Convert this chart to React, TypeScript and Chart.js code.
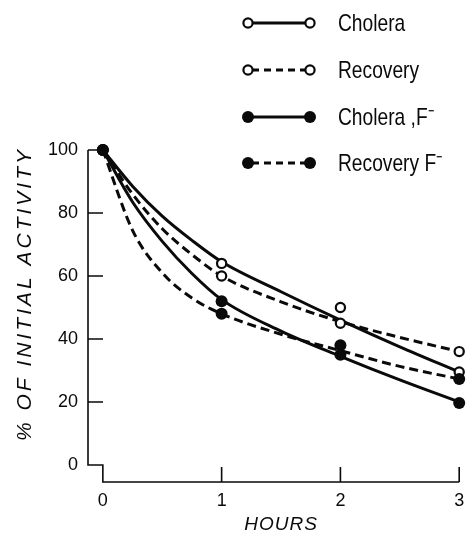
import React, { useEffect, useRef } from "react";
import { Chart, registerables } from "chart.js";

Chart.register(...registerables);

// measured data points (hours 0..3)
const hours = [0, 1, 2, 3];
const choleraPts = [100, 64, 45, 29.5];
const recoveryPts = [100, 60, 50, 36];
const choleraFPts = [100, 52, 38, 19.7];
const recoveryFPts = [100, 48, 35, 27.3];

// fitted curves
const curveHours = [0, 0.25, 0.5, 0.75, 1, 1.5, 2, 2.5, 3];
const choleraCurve = [100, 88.5, 79, 71.3, 64.5, 55, 46, 37.5, 29.5];
const recoveryCurve = [100, 86, 75, 66.8, 60, 51.8, 45.5, 40.5, 36];
const choleraFCurve = [100, 83.5, 71, 60.8, 52.5, 42.5, 34.5, 27, 20];
const recoveryFCurve = [100, 74.5, 61, 53, 48, 41.5, 36.3, 31.3, 27.3];

const xTicks = [0, 1, 2, 3];
const yTicks = [0, 20, 40, 60, 80, 100];
const legendLabels = ["Cholera", "Recovery", "Cholera ,F\u207B", "Recovery F\u207B"];
const xTitle = "HOURS";
const yTitle = "% OF INITIAL ACTIVITY";

const INK = "#0a0a0a";

const toXY = (xs: number[], ys: number[]) => xs.map((x, i) => ({ x, y: ys[i] }));

function drawMarker(ctx: CanvasRenderingContext2D, x: number, y: number, filled: boolean) {
  ctx.beginPath();
  if (filled) {
    ctx.arc(x, y, 6, 0, Math.PI * 2);
    ctx.fillStyle = INK;
    ctx.fill();
  } else {
    ctx.arc(x, y, 4.6, 0, Math.PI * 2);
    ctx.fillStyle = "#fff";
    ctx.fill();
    ctx.lineWidth = 2.2;
    ctx.strokeStyle = INK;
    ctx.stroke();
  }
}

const axesPlugin = {
  id: "brokenAxes",
  beforeDatasetsDraw(chart: any) {
    const ctx: CanvasRenderingContext2D = chart.ctx;
    const xs = chart.scales.x;
    const ys = chart.scales.y;
    const left = chart.chartArea.left;
    const bottom = chart.chartArea.bottom;
    const x0 = xs.getPixelForValue(xTicks[0]);
    const xEnd = xs.getPixelForValue(xTicks[xTicks.length - 1]);
    const y0 = ys.getPixelForValue(yTicks[0]);
    const yTop = ys.getPixelForValue(yTicks[yTicks.length - 1]);
    ctx.save();
    ctx.strokeStyle = INK;
    ctx.lineWidth = 1.6;
    ctx.beginPath();
    ctx.moveTo(left, yTop);
    ctx.lineTo(left, y0);
    ctx.lineTo(x0, y0);
    ctx.lineTo(x0, bottom);
    ctx.lineTo(xEnd, bottom);
    yTicks.slice(1).forEach((v) => {
      const p = ys.getPixelForValue(v);
      ctx.moveTo(left, p);
      ctx.lineTo(left + 15, p);
    });
    xTicks.slice(1).forEach((v) => {
      const p = xs.getPixelForValue(v);
      ctx.moveTo(p, bottom);
      ctx.lineTo(p, bottom - 15);
    });
    ctx.stroke();
    ctx.restore();
  },
  afterDraw(chart: any) {
    const ctx: CanvasRenderingContext2D = chart.ctx;
    const xs = chart.scales.x;
    ctx.save();
    ctx.fillStyle = INK;
    // x title
    ctx.font = "italic 19px 'Liberation Sans', Arial, sans-serif";
    (ctx as any).letterSpacing = "1px";
    ctx.textAlign = "center";
    ctx.textBaseline = "middle";
    ctx.fillText(xTitle, (xs.getPixelForValue(0) + xs.getPixelForValue(3)) / 2, 525);
    // y title
    ctx.save();
    ctx.translate(25, 294);
    ctx.rotate(-Math.PI / 2);
    ctx.font = "italic 21px 'Liberation Sans', Arial, sans-serif";
    (ctx as any).letterSpacing = "3px";
    ctx.fillText(yTitle, 0, 0);
    ctx.restore();
    (ctx as any).letterSpacing = "0px";

    // legend
    const rows = [23, 70, 117, 163];
    const styles = [
      { filled: false, dash: [] as number[] },
      { filled: false, dash: [7, 5] },
      { filled: true, dash: [] as number[] },
      { filled: true, dash: [7, 5] },
    ];
    rows.forEach((ry, i) => {
      const st = styles[i];
      ctx.save();
      ctx.strokeStyle = INK;
      ctx.lineWidth = 3;
      ctx.setLineDash(st.dash);
      ctx.beginPath();
      ctx.moveTo(252, ry);
      ctx.lineTo(306, ry);
      ctx.stroke();
      ctx.setLineDash([]);
      drawMarker(ctx, 248, ry, st.filled);
      drawMarker(ctx, 310, ry, st.filled);
      ctx.restore();
      ctx.save();
      ctx.fillStyle = INK;
      ctx.translate(338, ry + 1);
      ctx.scale(0.8, 1);
      ctx.font = "24px 'Liberation Sans', Arial, sans-serif";
      ctx.textAlign = "left";
      ctx.textBaseline = "middle";
      ctx.fillText(legendLabels[i], 0, 0);
      ctx.restore();
    });
    ctx.restore();
  },
};

export default function App() {
  const ref = useRef<HTMLCanvasElement | null>(null);
  useEffect(() => {
    if (!ref.current) return;
    const open = { pointBackgroundColor: "#fff", pointBorderColor: INK, pointBorderWidth: 2.2, pointRadius: 4.6 };
    const filled = { pointBackgroundColor: INK, pointBorderColor: INK, pointBorderWidth: 0, pointRadius: 6 };
    const curve = (data: number[], dash: number[]) => ({
      data: toXY(curveHours, data),
      borderColor: INK,
      borderWidth: 3,
      borderDash: dash,
      pointRadius: 0,
      cubicInterpolationMode: "monotone" as const,
      fill: false,
      clip: false as any,
    });
    const pts = (data: number[], style: any) => ({
      data: toXY(hours, data),
      showLine: false,
      clip: false as any,
      ...style,
    });
    const chart = new Chart(ref.current, {
      type: "line",
      data: {
        datasets: [
          pts(choleraFPts, filled),
          pts(recoveryFPts, filled),
          pts(choleraPts, open),
          pts(recoveryPts, open),
          curve(choleraCurve, []),
          curve(recoveryCurve, [9, 5]),
          curve(choleraFCurve, []),
          curve(recoveryFCurve, [9, 5]),
        ] as any,
      },
      options: {
        animation: false,
        responsive: false,
        layout: { padding: { left: 0, right: 3, top: 150, bottom: 0 } },
        plugins: { legend: { display: false }, tooltip: { enabled: false } },
        scales: {
          x: {
            type: "linear",
            min: -0.125,
            max: 3,
            grid: { display: false, drawTicks: false },
            border: { display: false },
            afterBuildTicks: (s: any) => {
              s.ticks = xTicks.map((v) => ({ value: v }));
            },
            afterFit: (s: any) => {
              s.height = 51;
              s.paddingLeft = 0;
              s.paddingRight = 0;
            },
            ticks: {
              padding: 8,
              color: INK,
              font: { family: "'Liberation Sans', Arial, sans-serif", size: 18 },
              maxRotation: 0,
              autoSkip: false,
              callback: (v: any) => String(v),
            },
          },
          y: {
            type: "linear",
            min: -5.4,
            max: 100,
            grid: { display: false, drawTicks: false },
            border: { display: false },
            afterBuildTicks: (s: any) => {
              s.ticks = yTicks.map((v) => ({ value: v }));
            },
            afterFit: (s: any) => {
              s.width = 88;
              s.paddingTop = 0;
              s.paddingBottom = 0;
            },
            ticks: {
              padding: 10,
              color: INK,
              font: { family: "'Liberation Sans', Arial, sans-serif", size: 18 },
              autoSkip: false,
              callback: (v: any) => String(v),
            },
          },
        },
      },
      plugins: [axesPlugin],
    });
    return () => chart.destroy();
  }, []);
  return (
    <div style={{ position: "absolute", left: 0, top: 0, width: 466, height: 533, background: "#fff" }}>
      <canvas ref={ref} width={466} height={533} style={{ display: "block" }} />
    </div>
  );
}
